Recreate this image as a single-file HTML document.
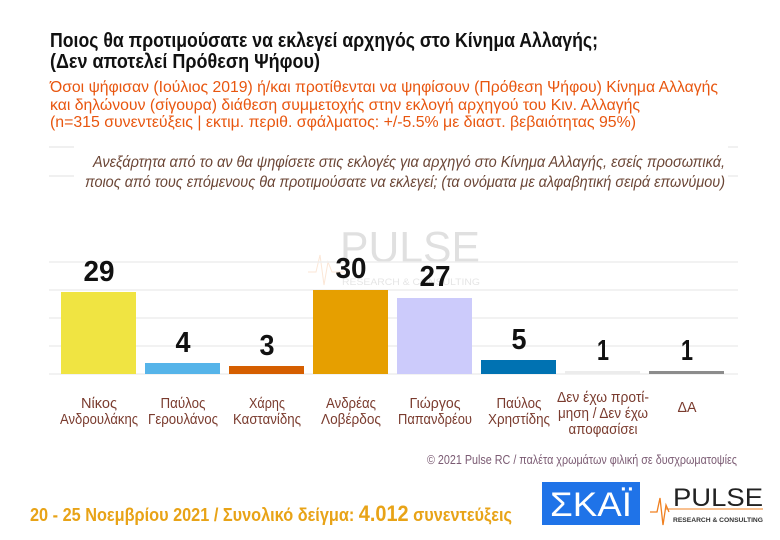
<!DOCTYPE html>
<html><head><meta charset="utf-8"><style>
html,body{margin:0;padding:0;background:#fff;}
svg{display:block;}
text{font-family:"Liberation Sans","DejaVu Sans",sans-serif;}
</style></head><body>
<svg width="780" height="540" viewBox="0 0 780 540" xmlns="http://www.w3.org/2000/svg">
<rect width="780" height="540" fill="#fff"/>
<text x="50" y="47" font-size="20" font-weight="bold" fill="#111" textLength="548" lengthAdjust="spacingAndGlyphs">Ποιος θα προτιμούσατε να εκλεγεί αρχηγός στο Κίνημα Αλλαγής;</text>
<text x="50" y="68" font-size="20" font-weight="bold" fill="#111" textLength="270" lengthAdjust="spacingAndGlyphs">(Δεν αποτελεί Πρόθεση Ψήφου)</text>
<g font-size="16" fill="#e8560f">
<text x="50" y="92" textLength="668" lengthAdjust="spacingAndGlyphs">Όσοι ψήφισαν (Ιούλιος 2019) ή/και προτίθενται να ψηφίσουν (Πρόθεση Ψήφου) Κίνημα Αλλαγής</text>
<text x="50" y="110" textLength="590" lengthAdjust="spacingAndGlyphs">και δηλώνουν (σίγουρα) διάθεση συμμετοχής στην εκλογή αρχηγού του Κιν. Αλλαγής</text>
<text x="50" y="127" textLength="586" lengthAdjust="spacingAndGlyphs">(n=315 συνεντεύξεις | εκτιμ. περιθ. σφάλματος: +/-5.5% με διαστ. βεβαιότητας 95%)</text>
</g>
<g stroke="#ececec" stroke-width="1.5">
<line x1="49" y1="147" x2="74" y2="147"/><line x1="728" y1="147" x2="738" y2="147"/>
<line x1="49" y1="176" x2="74" y2="176"/><line x1="728" y1="176" x2="738" y2="176"/>
</g>
<g font-size="15.5" font-style="italic" fill="#6b4636" text-anchor="end">
<text x="725" y="167" textLength="632" lengthAdjust="spacingAndGlyphs">Ανεξάρτητα από το αν θα ψηφίσετε στις εκλογές για αρχηγό στο Κίνημα Αλλαγής, εσείς προσωπικά,</text>
<text x="725" y="187" textLength="640" lengthAdjust="spacingAndGlyphs">ποιος από τους επόμενους θα προτιμούσατε να εκλεγεί; (τα ονόματα με αλφαβητική σειρά επωνύμου)</text>
</g>
<g opacity="0.25">
<text x="340" y="262" font-size="44" fill="#888" textLength="140" lengthAdjust="spacingAndGlyphs">PULSE</text>
<text x="342" y="285" font-size="9" fill="#999" textLength="138" lengthAdjust="spacingAndGlyphs">RESEARCH &amp; CONSULTING</text>
<polyline points="308,272 316,272 320,255 324,285 328,262 332,272 345,272" fill="none" stroke="#f0a060" stroke-width="1"/>
</g>
<g stroke="#eeeeee" stroke-width="1.5">
<line x1="49" y1="262" x2="738" y2="262"/><line x1="49" y1="290" x2="738" y2="290"/>
<line x1="49" y1="318" x2="738" y2="318"/><line x1="49" y1="346" x2="738" y2="346"/>
<line x1="49" y1="374" x2="738" y2="374"/>
</g>
<rect x="61" y="292" width="75" height="82" fill="#f0e442"/>
<rect x="145" y="363" width="75" height="11" fill="#56b4e9"/>
<rect x="229" y="366" width="75" height="8" fill="#d55e00"/>
<rect x="313" y="290" width="75" height="84" fill="#e69f00"/>
<rect x="397" y="298" width="75" height="76" fill="#cccbfb"/>
<rect x="481" y="360" width="75" height="14" fill="#0072b2"/>
<rect x="565" y="371" width="75" height="3" fill="#ececec"/>
<rect x="649" y="371" width="75" height="3" fill="#8c8c8c"/>
<g font-size="29" font-weight="bold" fill="#111" text-anchor="middle" lengthAdjust="spacingAndGlyphs">
<text x="99" y="281" textLength="31" lengthAdjust="spacingAndGlyphs">29</text>
<text x="183" y="352" textLength="15" lengthAdjust="spacingAndGlyphs">4</text>
<text x="267" y="355" textLength="15" lengthAdjust="spacingAndGlyphs">3</text>
<text x="351" y="278" textLength="31" lengthAdjust="spacingAndGlyphs">30</text>
<text x="435" y="286" textLength="31" lengthAdjust="spacingAndGlyphs">27</text>
<text x="519" y="349" textLength="15" lengthAdjust="spacingAndGlyphs">5</text>
<text x="603" y="360" textLength="12" lengthAdjust="spacingAndGlyphs">1</text>
<text x="687" y="360" textLength="12" lengthAdjust="spacingAndGlyphs">1</text>
</g>
<g font-size="15" fill="#7a3b2e" text-anchor="middle">
<text x="99" y="408" textLength="36" lengthAdjust="spacingAndGlyphs">Νίκος</text><text x="99" y="424" textLength="78" lengthAdjust="spacingAndGlyphs">Ανδρουλάκης</text>
<text x="183" y="408" textLength="45" lengthAdjust="spacingAndGlyphs">Παύλος</text><text x="183" y="424" textLength="70" lengthAdjust="spacingAndGlyphs">Γερουλάνος</text>
<text x="267" y="408" textLength="36" lengthAdjust="spacingAndGlyphs">Χάρης</text><text x="267" y="424" textLength="68" lengthAdjust="spacingAndGlyphs">Καστανίδης</text>
<text x="351" y="408" textLength="50" lengthAdjust="spacingAndGlyphs">Ανδρέας</text><text x="351" y="424" textLength="60" lengthAdjust="spacingAndGlyphs">Λοβέρδος</text>
<text x="435" y="408" textLength="51" lengthAdjust="spacingAndGlyphs">Γιώργος</text><text x="435" y="424" textLength="74" lengthAdjust="spacingAndGlyphs">Παπανδρέου</text>
<text x="519" y="408" textLength="45" lengthAdjust="spacingAndGlyphs">Παύλος</text><text x="519" y="424" textLength="62" lengthAdjust="spacingAndGlyphs">Χρηστίδης</text>
<text x="603" y="402" textLength="92" lengthAdjust="spacingAndGlyphs">Δεν έχω προτί-</text><text x="603" y="418" textLength="90" lengthAdjust="spacingAndGlyphs">μηση / Δεν έχω</text><text x="603" y="434" textLength="69" lengthAdjust="spacingAndGlyphs">αποφασίσει</text>
<text x="687" y="412" textLength="19" lengthAdjust="spacingAndGlyphs">ΔΑ</text>
</g>
<text x="737" y="464" font-size="13" fill="#7b5b73" text-anchor="end" textLength="310" lengthAdjust="spacingAndGlyphs">© 2021 Pulse RC  /  παλέτα χρωμάτων φιλική σε δυσχρωματοψίες</text>
<text x="30" y="521" font-size="18" font-weight="bold" fill="#e8a317" textLength="482" lengthAdjust="spacingAndGlyphs">20 - 25  Νοεμβρίου 2021  /  Συνολικό δείγμα:  <tspan font-size="22">4.012</tspan> συνεντεύξεις</text>
<rect x="542" y="482" width="98" height="43" fill="#1f73e8"/>
<text x="591" y="516" font-size="34" fill="#fff" text-anchor="middle" textLength="82" lengthAdjust="spacingAndGlyphs">ΣΚΑΪ</text>
<text x="673" y="506" font-size="25" fill="#222" textLength="90" lengthAdjust="spacingAndGlyphs">PULSE</text>
<line x1="666" y1="509" x2="763" y2="509" stroke="#f08020" stroke-width="1"/>
<polyline points="650,512 657,512 660,498 663,525 666,505 669,512" fill="none" stroke="#f08020" stroke-width="1.3"/>
<text x="673" y="522" font-size="6.5" font-weight="bold" fill="#333" textLength="90" lengthAdjust="spacingAndGlyphs">RESEARCH &amp; CONSULTING</text>
</svg>
</body></html>
